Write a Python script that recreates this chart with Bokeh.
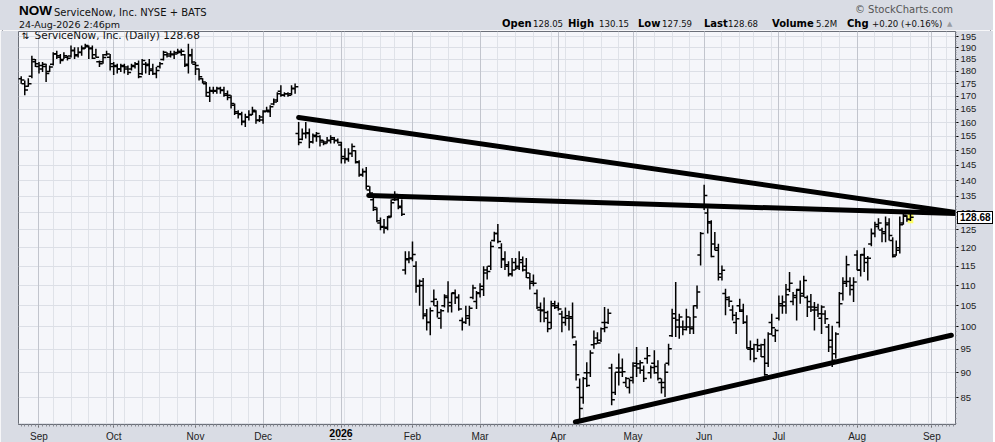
import numpy as np
import pandas as pd
from bokeh.plotting import figure
from bokeh.layouts import column
from bokeh.models import Range1d, FixedTicker, Grid, Label, ColumnDataSource, PrintfTickFormatter, Div
from bokeh.embed import file_html
from bokeh.resources import INLINE

# ---------------- data ----------------
START = "2025-08-25"
END = "2026-08-24"
AXIS_END = "2026-09-15"
HOLIDAYS = ["2025-09-01", "2025-11-27", "2025-12-25", "2026-01-01", "2026-01-19",
            "2026-02-16", "2026-04-03", "2026-05-25", "2026-06-19", "2026-07-03"]

OPEN = [
    177, 175, 174, 178, 184, 182, 181, 182, 180, 183,
    187.5, 186, 185, 186, 186.5, 189, 187, 188, 190, 190.5,
    190, 187, 184, 184, 187, 186, 182, 182, 181, 182,
    181, 181, 182, 183, 179, 183, 183, 181, 179, 182,
    185, 187, 186.5, 187, 188, 188, 187, 183, 187, 183,
    181, 177, 175, 170, 172, 172, 173, 172.5, 171, 169.5,
    166.5, 163.5, 163, 160.5, 162, 163, 164, 161, 161, 164.3,
    164, 167, 168.5, 172, 170.5, 171, 171, 173, 156, 154,
    156, 156, 153, 155, 155, 153, 153, 153.5, 154, 153.5,
    152, 148, 147, 149, 150, 146, 142, 143, 137, 134,
    131, 127, 126, 125.5, 129, 134, 134, 132, 114, 117,
    117, 115, 110, 110, 103, 101, 106, 105, 102, 105,
    107, 105, 108, 107, 101.5, 101, 102, 107, 106, 108,
    109, 114, 115, 122, 124, 120, 117, 115, 113, 116,
    115, 116, 115, 112, 111, 108, 104, 104, 102, 101,
    105.5, 105, 103, 101, 102, 102, 96, 87, 85, 90,
    90, 96, 97.5, 97, 101, 101, 91, 86, 91, 91,
    88, 87, 89, 92, 91, 90.5, 93, 90, 92, 90,
    88, 88, 92, 98, 102, 100, 100, 100, 100, 100,
    105, 118, 132, 130, 127, 121, 120, 113, 108, 106.5,
    104, 101, 105, 104, 101, 95, 95, 96, 95, 96,
    92, 101, 98, 102, 105, 105, 109, 106, 107, 109,
    108, 107, 106, 104, 104, 102, 103, 100, 97, 94,
    101, 108, 111, 111, 109, 118, 114, 118, 116, 121,
    124, 126, 125, 124, 127, 122, 118, 120, 127, 129,
    128.05,
]
HIGH = [
    178, 176.3, 177.2, 186.6, 185.2, 183.9, 183.9, 183.2, 182.5, 188.1,
    188.8, 187.4, 188.1, 186.6, 191, 190.3, 190.3, 191, 191.8, 191,
    191, 189.6, 184.6, 187.4, 188.8, 187.4, 183.9, 183.2, 183.2, 183.2,
    182.5, 183.2, 183.9, 184.6, 185.2, 183.9, 185.2, 183.2, 181.8, 183.9,
    188.8, 188.1, 188.8, 188.8, 189.6, 189.6, 187.4, 191.8, 189.6, 183.9,
    181.2, 177.2, 175.7, 173.8, 173.8, 173.8, 173.8, 173.8, 172.3, 170.4,
    167.2, 164.6, 164.0, 163.3, 164.6, 165.9, 164.6, 162.8, 164.6, 165.9,
    166.5, 169.1, 171.6, 174.4, 171.6, 171.6, 174.4, 175.1, 160.2, 157.8,
    160.2, 157.8, 156.0, 156.6, 155.4, 153.6, 154.8, 155.4, 154.8, 154.3,
    153.1, 150.8, 150.8, 152.5, 150.1, 146.7, 144.0, 144.5, 138.2, 134.6,
    131.6, 128.6, 128.2, 129.1, 134.1, 136.6, 134.6, 134.1, 119.0, 119.0,
    121.7, 116.3, 111.5, 111.9, 104.2, 104.6, 109.0, 106.2, 104.2, 107.8,
    111.1, 108.2, 109.0, 107.8, 102.2, 105.0, 105.0, 110.2, 108.6, 110.6,
    115.0, 115.0, 121.7, 124.5, 126.7, 121.2, 119.0, 116.3, 117.2, 117.2,
    119.0, 117.6, 117.2, 113.2, 112.8, 109.0, 105.8, 107.0, 103.8, 106.2,
    106.2, 105.8, 103.8, 104.6, 103.8, 105.8, 96.95, 88.8, 89.1, 92.2,
    94.8, 99.2, 98.8, 99.9, 104.7, 104.3, 91.9, 90.1, 94.1, 93.0,
    89.1, 88.8, 92.2, 95.5, 92.6, 91.5, 95.5, 91.5, 94.8, 92.6,
    88.8, 91.9, 96.2, 104.3, 110.9, 103.1, 101.5, 104.3, 102.3, 105.1,
    110.0, 124.4, 138.7, 131.4, 127.8, 124.4, 121.1, 115.2, 109.2, 107.3,
    105.1, 103.5, 106.7, 105.5, 102.7, 96.95, 96.2, 97.3, 96.2, 97.3,
    98.8, 103.1, 99.6, 107.5, 107.5, 110.4, 113.5, 108.4, 109.2, 111.3,
    112.5, 107.5, 107.9, 105.9, 105.5, 105.1, 103.9, 100.7, 100.3, 98.8,
    108.4, 112.1, 117.8, 112.1, 112.1, 119.3, 118.3, 120.0, 117.7, 125.4,
    127.4, 128.4, 125.6, 128.9, 128.4, 122.9, 122.0, 128.9, 129.9, 129.3,
    130.15,
]
LOW = [
    175, 170.4, 173.8, 177.2, 181.8, 179.1, 179.8, 175.7, 179.8, 182.5,
    185.2, 183.2, 185.2, 184.6, 185.9, 185.2, 185.9, 186.6, 189.6, 185.2,
    185.2, 185.9, 181.8, 183.2, 186.6, 180.4, 178.5, 179.1, 179.8, 179.1,
    178.5, 180.4, 181.2, 177.2, 178.5, 179.1, 178.5, 178.5, 177.2, 181.2,
    184.6, 185.9, 185.9, 185.2, 187.4, 186.6, 181.8, 179.1, 183.2, 178.5,
    176.3, 175.1, 169.8, 167.8, 171, 171, 171, 169.8, 168.4, 165.3,
    162.8, 161.5, 159.0, 158.4, 160.8, 162.8, 159.6, 160.2, 159.6, 164.0,
    162.1, 166.5, 167.8, 169.8, 169.8, 169.8, 170.4, 171, 151.9, 153.6,
    154.3, 150.8, 152.5, 153.1, 151.4, 151.9, 152.5, 152.5, 152.5, 152.5,
    145.6, 145.6, 146.2, 147.8, 145.6, 141.3, 141.3, 137.2, 134.6, 130.6,
    127.2, 124.9, 124.0, 124.9, 128.6, 133.6, 131.1, 129.1, 112.8, 115.8,
    116.3, 108.2, 105.0, 101.8, 99.2, 98.1, 105.0, 102.2, 99.6, 104.6,
    103.4, 103.4, 105.4, 103.8, 99.2, 100.7, 100.3, 106.6, 104.2, 107.0,
    107.4, 111.5, 114.0, 121.7, 121.2, 114.5, 114.0, 112.3, 112.3, 114.0,
    114.0, 113.6, 111.9, 109.0, 109.8, 104.2, 101.1, 101.1, 98.8, 99.6,
    104.2, 103.8, 98.8, 100.3, 99.2, 97.4, 88.4, 80.7, 83.8, 87.1,
    89.1, 95.1, 96.2, 96.6, 98.8, 100.7, 83.5, 85.5, 87.4, 89.1,
    87.1, 85.8, 87.8, 89.1, 89.8, 88.1, 91.9, 88.8, 89.8, 88.4,
    85.8, 85.1, 91.5, 97.7, 97.7, 97.3, 98.1, 99.2, 98.4, 98.4,
    104.3, 115.2, 130.9, 124.0, 117.4, 119.3, 111.3, 111.3, 102.7, 104.7,
    101.5, 98.4, 103.5, 100.7, 95.1, 92.6, 92.2, 94.4, 93.3, 89.4,
    91.2, 98.1, 96.6, 101.5, 103.1, 103.1, 108.4, 105.1, 101.5, 105.5,
    107.1, 102.3, 103.5, 99.2, 102.3, 98.4, 100.7, 94.4, 91.2, 93.0,
    99.9, 106.3, 109.6, 107.5, 105.9, 113.9, 112.3, 113.5, 111.3, 120.4,
    122.9, 125.1, 121.5, 121.5, 122.0, 117.3, 117.8, 118.4, 126.5, 127.4,
    127.59,
]
CLOSE = [
    176.5, 172.5, 175, 185, 183.2, 182.5, 183, 179.1, 181.8, 187.4,
    186.6, 184.6, 186.6, 185.5, 188.8, 186.6, 188.1, 189.6, 191, 189.6,
    185.5, 186, 183.2, 185.9, 187.4, 183.2, 182.5, 181, 182.5, 181.8,
    179.5, 182.5, 183.2, 177.8, 184.6, 182.5, 180.4, 179.1, 180.4, 183.2,
    188.1, 187.4, 187.4, 187.4, 188.5, 188.5, 182.5, 186.6, 183.9, 182.5,
    177.8, 175.7, 171.5, 172.3, 172.3, 173.2, 172.3, 170.4, 170.4, 167.2,
    164.0, 163.3, 160.2, 162.1, 162.8, 164.6, 160.8, 162.1, 164.0, 164.6,
    165.9, 167.8, 171.0, 170.4, 171.0, 170.4, 173.2, 173.8, 152.8, 156.0,
    156.3, 153.1, 155.4, 156.0, 153.6, 152.5, 153.6, 154.5, 153.6, 152.8,
    147.3, 147.3, 149.0, 151.4, 146.2, 141.8, 142.9, 138.2, 136.1, 131.6,
    127.7, 125.8, 125.8, 128.6, 133.1, 135.6, 131.6, 129.6, 116.7, 117.2,
    118.1, 109.8, 111.1, 102.6, 101.1, 103.8, 106.6, 103.4, 103.8, 107.4,
    105.8, 108.2, 107.0, 104.2, 101.1, 102.6, 104.4, 109.4, 108.2, 109.8,
    113.2, 113.6, 120.3, 124.0, 121.7, 116.7, 115.4, 112.8, 114.0, 114.5,
    116.7, 114.0, 113.2, 110.6, 110.6, 104.6, 103.8, 103.4, 99.6, 105.0,
    104.6, 104.2, 102.2, 102.6, 102.4, 97.7, 89.6, 82.9, 88.8, 87.4,
    94.2, 96.2, 96.4, 99.6, 99.9, 103.2, 84.6, 90.1, 90.1, 90.2,
    88.8, 88.4, 91.4, 91.9, 92.1, 88.8, 93.6, 91.1, 91.3, 88.8,
    87.0, 90.1, 95.1, 103.1, 101.6, 102.3, 99.4, 102.3, 99.6, 102.3,
    108.4, 124.0, 135.3, 127.4, 117.6, 119.3, 112.1, 113.9, 107.0, 106.1,
    102.7, 101.9, 103.7, 101.1, 95.3, 95.1, 93.0, 95.8, 93.4, 89.6,
    98.4, 99.8, 99.2, 105.5, 105.9, 107.7, 110.6, 107.5, 108.8, 107.4,
    111.3, 104.7, 104.7, 104.6, 103.1, 104.7, 101.9, 95.5, 92.6, 98.4,
    105.5, 110.6, 115.4, 110.0, 110.9, 113.9, 118.1, 117.1, 117.1, 124.0,
    126.6, 127.0, 124.5, 126.5, 123.4, 117.6, 119.3, 126.5, 129.3, 128.1,
    128.68,
]

# hand-drawn trend lines: (bar index, price) end points
TREND_X0 = [78.0, 97.7, 155.8]
TREND_Y0 = [161.9, 135.3, 80.35]
TREND_X1 = [262.7, 262.7, 261.5]
TREND_Y1 = [130.1, 129.8, 98.1]

MONTH_LABELS = ["Sep", "Oct", "Nov", "Dec", "2026", "Feb", "Mar", "Apr",
                "May", "Jun", "Jul", "Aug", "Sep"]
Y_TICKS = [85, 90, 95, 100, 105, 110, 115, 120, 125, 130, 135, 140, 145,
           150, 155, 160, 165, 170, 175, 180, 185, 190, 195]

SYMBOL = "NOW"
COMPANY = "ServiceNow, Inc."
EXCHANGE = "NYSE + BATS"
STAMP = "24-Aug-2026 2:46pm"
HEADER_STATS = [("Open", "128.05"), ("High", "130.15"), ("Low", "127.59"),
                ("Last", "128.68"), ("Volume", "5.2M"), ("Chg", "+0.20 (+0.16%)")]
LAST_PRICE = "128.68"

# ---------------- calendar ----------------
cal = pd.bdate_range(START, AXIS_END)
cal = cal[~cal.isin(pd.to_datetime(HOLIDAYS))]
n = len(CLOSE)
assert len(OPEN) == n and len(HIGH) == n and len(LOW) == n
assert cal[n - 1] == pd.Timestamp(END), cal[n - 1]

month_idx = [i for i in range(1, len(cal)) if cal[i].month != cal[i - 1].month]
week_idx = [i for i in range(1, len(cal)) if cal[i].weekday() <= cal[i - 1].weekday()]

x = np.arange(n)
src = ColumnDataSource(dict(x=x, xl=x - 0.9, xr=x + 0.9, o=OPEN, h=HIGH, l=LOW, c=CLOSE))

BG = "#d9dce4"
AXFONT = "Liberation Sans"
FW, FH = 937, 393
HEADER_H = 30
X0, X1 = -0.76, 262.66
Y0, Y1 = 79.9, 197.3
p = figure(frame_width=FW, frame_height=FH, y_axis_type="log",
           x_range=Range1d(X0, X1), y_range=Range1d(Y0, Y1),
           output_backend="svg", toolbar_location=None,
           y_axis_location="right", x_axis_location="below",
           min_border_left=18, min_border_right=38, min_border_top=1, min_border_bottom=17)
p.background_fill_color = "#f5f6fa"
p.border_fill_color = BG
p.outline_line_color = "#6b6f78"
p.outline_line_width = 1

# grids
p.xgrid.ticker = FixedTicker(ticks=week_idx)
p.xgrid.grid_line_color = "#dfe2e8"
p.ygrid.ticker = FixedTicker(ticks=list(range(80, 200, 5)))
p.ygrid.grid_line_color = "#dcdfe6"
mgrid = Grid(dimension=0, ticker=FixedTicker(ticks=month_idx), grid_line_color="#c2c5cd")
p.add_layout(mgrid)

# axes
xa = p.xaxis[0]
xa.ticker = FixedTicker(ticks=month_idx, minor_ticks=list(range(len(cal))))
xa.major_label_overrides = {m: lab for m, lab in zip(month_idx, MONTH_LABELS)}
xa.major_label_text_font = AXFONT
xa.major_label_text_font_size = "10px"
xa.major_label_text_color = "#222222"
xa.major_label_standoff = 3
xa.major_tick_out = 3
xa.major_tick_in = 0
xa.minor_tick_out = 2
xa.minor_tick_in = 0
xa.minor_tick_line_color = "#8a8d94"
xa.major_tick_line_color = "#555555"
xa.axis_line_color = "#6b6f78"

ya = p.yaxis[0]
ya.ticker = FixedTicker(ticks=Y_TICKS, minor_ticks=list(range(80, 198)))
ya.formatter = PrintfTickFormatter(format="%d")
ya.major_label_text_font = AXFONT
ya.major_label_text_font_size = "9.5px"
ya.major_label_text_color = "#222222"
ya.major_label_standoff = 2
ya.major_tick_out = 3
ya.major_tick_in = 0
ya.minor_tick_out = 1
ya.minor_tick_in = 0
ya.minor_tick_line_color = "#8a8d94"
ya.axis_line_color = "#6b6f78"
ya.axis_line_dash = "1 1"

# highlight of the last bar
p.quad(left=[n - 1 - 0.8], right=[n - 1 + 0.8], bottom=[LOW[-1] * 0.995], top=[HIGH[-1]],
       fill_color="#ffff66", line_color=None)

# OHLC bars
p.segment("x", "l", "x", "h", source=src, line_color="black", line_width=1.5)
p.segment("xl", "o", "x", "o", source=src, line_color="black", line_width=1.5)
p.segment("x", "c", "xr", "c", source=src, line_color="black", line_width=1.5)

# trend lines
p.segment(x0=TREND_X0, y0=TREND_Y0, x1=TREND_X1, y1=TREND_Y1,
          line_color="black", line_width=5, line_cap="round")

# legend text inside the frame
p.add_layout(Label(x=3, y=FH - 9, x_units="screen", y_units="screen", text="\u21c5",
                   text_font="DejaVu Sans", text_font_size="9px", text_color="#000000"))
p.add_layout(Label(x=16, y=FH - 9, x_units="screen", y_units="screen",
                   text=COMPANY + " (Daily) " + LAST_PRICE,
                   text_font="DejaVu Sans", text_font_size="10.5px", text_color="#111111"))

# ---------------- header (HTML) + overlays ----------------
def span(left, top, text, font, color="#111", right=False, extra=""):
    pos = ("right:%dpx" % left) if right else ("left:%dpx" % left)
    return ('<span style="position:absolute;%s;top:%dpx;font:%s;color:%s;'
            'white-space:nowrap;line-height:1;%s">%s</span>' % (pos, top, font, color, extra, text))

parts = [
    span(19, 4, SYMBOL, "bold 13.5px 'Liberation Sans'", "#000"),
    span(54, 8, COMPANY + " " + EXCHANGE, "10px 'DejaVu Sans'", "#111"),
    span(19, 20, STAMP, "9.5px 'DejaVu Sans'", "#111"),
    span(40, 5, "\u00a9 StockCharts.com", "10px 'DejaVu Sans'", "#555", right=True),
]
stat_x = [502, 533, 568, 599, 638, 662, 704, 728, 772, 816, 847, 872]
k = 0
for name, val in HEADER_STATS:
    parts.append(span(stat_x[k], 19, name, "bold 10px 'DejaVu Sans'", "#000"))
    parts.append(span(stat_x[k + 1], 20, val, "8.6px 'DejaVu Sans'", "#111"))
    k += 2
parts.append(span(947, 21, "\u25b2", "7px 'DejaVu Sans'", "#9a9ca2"))

# last-price tag on the price axis, placed from the price through the log scale
frame_top = HEADER_H + 1
last_y = frame_top + FH * np.log(Y1 / float(LAST_PRICE)) / np.log(Y1 / Y0)
parts.append(span(18 + FW + 2, int(round(last_y - 6)), LAST_PRICE, "bold 10px 'Liberation Sans'", "#000",
                  extra="z-index:20;background:#fff;border:1px solid #000;padding:1px 1px 0 2px;"))
# bold year tick label
year_x = 18 + FW * (month_idx[4] - X0) / (X1 - X0)
parts.append('<span style="position:absolute;left:%dpx;top:%dpx;width:30px;text-align:center;'
             'font:bold 10.5px \'Liberation Sans\';color:#000;background:%s;line-height:1;z-index:20;">%s</span>'
             % (int(round(year_x - 15)), frame_top + FH + 4, BG, MONTH_LABELS[4]))

TOTAL_W = 18 + FW + 38
header = Div(text='<div style="position:relative;width:%dpx;height:%dpx;background:%s;overflow:visible;">%s</div>'
             % (TOTAL_W, HEADER_H, BG, "".join(parts)),
             width=TOTAL_W, height=HEADER_H, margin=0, styles={"overflow": "visible", "z-index": "5"})

layout = column(header, p, spacing=0, margin=0,
                styles={"outline": "1px solid #8c9099", "outline-offset": "-3px"})
open("out.html", "w").write(file_html(layout, INLINE))
